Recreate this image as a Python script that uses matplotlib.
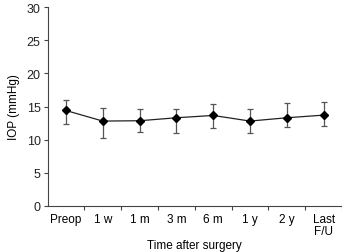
import matplotlib
matplotlib.use("Agg")
import matplotlib.pyplot as plt
import numpy as np

plt.rcParams["font.family"] = ["Liberation Sans", "DejaVu Sans"]

# datos
etiquetas = ["Preop", "1 w", "1 m", "3 m", "6 m", "1 y", "2 y", "Last\nF/U"]
media = [14.4, 12.8, 12.85, 13.3, 13.65, 12.8, 13.3, 13.7]
sup = [16.05, 14.85, 14.65, 14.65, 15.4, 14.7, 15.5, 15.65]
inf = [12.4, 10.2, 11.15, 11.0, 11.75, 11.0, 11.9, 12.0]

x = np.arange(len(etiquetas))
media = np.array(media)
err = [media - np.array(inf), np.array(sup) - media]

fig = plt.figure(figsize=(3.42, 2.53), dpi=100)
ax = fig.add_axes([0.139, 0.183, 0.861, 0.784])

ax.errorbar(x, media, yerr=err, fmt="none", ecolor="#555555",
            elinewidth=0.9, capsize=2.5, capthick=0.9)
ax.plot(x, media, color="#222222", lw=0.9, marker="D", ms=4,
        mfc="black", mec="black")

ax.set_xlim(-0.5, len(etiquetas) - 0.5)
ax.set_ylim(0, 30)
ax.set_yticks(np.arange(0, 31, 5))
ax.set_xticks(x + 0.5)
ax.set_xticklabels([])
ax.set_xticks(x, minor=True)
ax.set_xticklabels(etiquetas, minor=True, fontsize=8.5, linespacing=1.0)
ax.tick_params(axis="x", which="minor", length=0, pad=5)
ax.tick_params(axis="x", which="major", length=3, width=0.8, color="#444444")
ax.tick_params(axis="y", length=3, width=0.8, color="#444444", labelsize=9, pad=2,
               labelcolor="#222222")

for s in ["top", "right"]:
    ax.spines[s].set_visible(False)
for s in ["left", "bottom"]:
    ax.spines[s].set_color("#444444")
    ax.spines[s].set_linewidth(0.8)

ax.set_ylabel("IOP (mmHg)", fontsize=8.5, labelpad=5)
ax.set_xlabel("Time after surgery", fontsize=8.5, labelpad=1.5)

fig.savefig("out.png", dpi=100)
